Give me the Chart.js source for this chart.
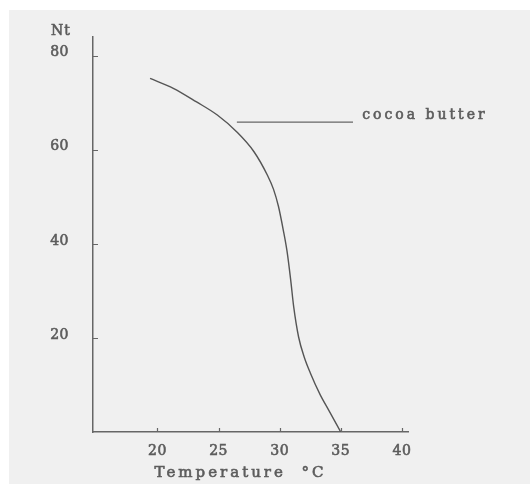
<!DOCTYPE html>
<html>
<head>
<meta charset="utf-8">
<script src="https://cdn.jsdelivr.net/npm/chart.js@4.4.1/dist/chart.umd.min.js"></script>
<style>
  html, body { margin: 0; padding: 0; background: #ffffff; }
  #wrap { position: absolute; left: 0; top: 0; width: 530px; height: 484px; }
</style>
</head>
<body>
<div id="wrap"><canvas id="c" width="530" height="484"></canvas></div>
<script>
// Solid fat content (Nt) of cocoa butter against temperature
const temperature = [19.4, 21.3, 23.2, 24.9, 26.5, 27.9, 29.0, 29.5, 29.9, 30.3, 30.6, 30.9, 31.15, 31.55, 32.0, 32.5, 33.3, 34.0, 35.0];
const nt          = [75.2, 73.1, 70.2, 67.4, 63.8, 59.6, 54.6, 51.6, 48.0, 42.9, 38.5, 32.4, 26.6, 20.2, 16.0, 12.6, 8.0, 4.7, 0];

// Leader line pointing at the curve, and where its label sits
const leaderTemp = [26.5, 36.0];
const leaderNt   = [65.9, 65.9];
const labelTemp  = 36.75;
const labelNt    = 67.3;
const seriesName = 'cocoa butter';

const xTicks = [20, 25, 30, 35, 40];
const yTicks = [20, 40, 60, 80];
const xTitle = 'Temperature  \u00B0C';
const yTitle = 'Nt';

const INK = '#5c5c5c';
const FONT = "'DejaVu Serif', serif";
const tickFont = { family: FONT, size: 14 };

function inkText(ctx, text, x, y, font, spacing) {
  ctx.font = font;
  ctx.letterSpacing = spacing;
  ctx.fillText(text, x, y);
  ctx.strokeText(text, x, y);
}

const paper = {
  id: 'paper',
  beforeDraw(chart) {
    const ctx = chart.ctx;
    ctx.save();
    ctx.fillStyle = '#f0f0f0';
    ctx.fillRect(9, 10, chart.width - 9, chart.height - 10);
    ctx.restore();
    ctx.letterSpacing = '0.5px';
  },
  afterDraw(chart) {
    const { ctx, chartArea, scales: { x, y } } = chart;
    ctx.save();
    // inward tick marks
    ctx.strokeStyle = '#666';
    ctx.lineWidth = 1.2;
    ctx.beginPath();
    yTicks.forEach(v => {
      const py = Math.round(y.getPixelForValue(v)) + 0.5;
      ctx.moveTo(chartArea.left, py);
      ctx.lineTo(chartArea.left + 5, py);
    });
    xTicks.forEach(v => {
      const px = Math.round(x.getPixelForValue(v)) + 0.5;
      ctx.moveTo(px, chartArea.bottom);
      ctx.lineTo(px, chartArea.bottom - 4);
    });
    ctx.stroke();

    ctx.fillStyle = INK;
    ctx.strokeStyle = INK;
    ctx.lineWidth = 0.6;
    ctx.textBaseline = 'middle';

    ctx.textAlign = 'left';
    inkText(ctx, seriesName, x.getPixelForValue(labelTemp), y.getPixelForValue(labelNt), '14px ' + FONT, '3px');

    ctx.textAlign = 'right';
    inkText(ctx, yTitle, chartArea.left - 22, chartArea.top - 6, '14px ' + FONT, '1px');

    ctx.textAlign = 'center';
    inkText(ctx, xTitle, (chartArea.left + chartArea.right) / 2 - 10, chartArea.bottom + 41, '15px ' + FONT, '3px');
    ctx.restore();
  }
};

new Chart(document.getElementById('c'), {
  type: 'line',
  data: {
    datasets: [
      {
        label: seriesName,
        data: temperature.map((t, i) => ({ x: t, y: nt[i] })),
        borderColor: '#555',
        borderWidth: 1.4,
        pointRadius: 0,
        fill: false,
        cubicInterpolationMode: 'monotone'
      },
      {
        label: 'leader',
        data: leaderTemp.map((t, i) => ({ x: t, y: leaderNt[i] })),
        borderColor: '#666',
        borderWidth: 1.2,
        pointRadius: 0,
        fill: false
      }
    ]
  },
  options: {
    responsive: false,
    animation: false,
    layout: { padding: { left: 0, top: 37, right: 122, bottom: 0 } },
    plugins: { legend: { display: false }, tooltip: { enabled: false } },
    scales: {
      x: {
        type: 'linear',
        min: 14.73,
        max: 40.5,
        grid: { display: false, drawTicks: false },
        border: { display: true, color: '#666', width: 1.5 },
        afterBuildTicks: s => { s.ticks = xTicks.map(v => ({ value: v })); },
        afterFit: s => { s.height = 52; },
        ticks: { color: INK, font: tickFont, textStrokeColor: INK, textStrokeWidth: 0.6, padding: 11, maxRotation: 0, autoSkip: false }
      },
      y: {
        type: 'linear',
        min: 0,
        max: 84,
        grid: { display: false, drawTicks: false },
        border: { display: true, color: '#666', width: 1.5 },
        afterBuildTicks: s => { s.ticks = yTicks.map(v => ({ value: v })); },
        afterFit: s => { s.width = 93; },
        ticks: { color: INK, font: tickFont, textStrokeColor: INK, textStrokeWidth: 0.6, padding: 24, labelOffset: -3 }
      }
    }
  },
  plugins: [paper]
});
</script>
</body>
</html>
